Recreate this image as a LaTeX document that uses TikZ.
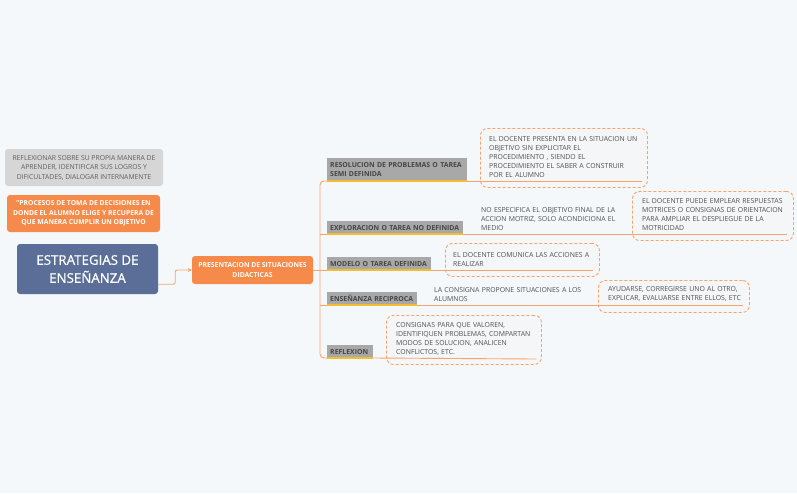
\documentclass[tikz,border=0pt]{standalone}
\usepackage{fontspec}
\setmainfont{Open Sans}
\usetikzlibrary{arrows.meta,calc}
\definecolor{bg}{HTML}{F4F8FB}
\definecolor{lightgray}{HTML}{D6D6D6}
\definecolor{grtext}{HTML}{5E5E5E}
\definecolor{orng}{HTML}{F68A4A}
\definecolor{bluebox}{HTML}{5A6E98}
\definecolor{lblgray}{HTML}{A8A8A8}
\definecolor{lbltext}{HTML}{454545}
\definecolor{desctext}{HTML}{505050}
\definecolor{lineor}{HTML}{F7A36E}
\definecolor{yel}{HTML}{F4BD2E}
\definecolor{boxfill}{HTML}{F5F6F8}
\begin{document}
\begin{tikzpicture}[x=1pt,y=-1pt,
  lbl/.style={fill=lblgray, text=lbltext, font=\bfseries\fontsize{6.9}{9.5}\selectfont,
    anchor=south west, inner xsep=3pt, inner ysep=2pt, align=left},
  desc/.style={text=desctext, font=\fontsize{6.9}{9}\selectfont, anchor=south west,
    align=left, inner xsep=0pt, inner ysep=3pt},
  dbox/.style={draw=lineor, dash pattern=on 3pt off 2pt, rounded corners=7pt,
    fill=boxfill, line width=0.9pt, anchor=north west, inner sep=0pt},
  branch/.style={draw=lineor, line width=0.9pt},
  uline/.style={draw=yel, line width=1.6pt},
  topbox/.style={rounded corners=3pt, inner sep=2pt, align=center}
]
\useasboundingbox[fill=bg] (0,0) rectangle (797,493);

% left boxes
\node[topbox, fill=lightgray, text=grtext, font=\fontsize{6.8}{9.5}\selectfont,
  minimum width=158, minimum height=37] (refl) at (84,167.5)
  {REFLEXIONAR SOBRE SU PROPIA MANERA DE\\APRENDER, IDENTIFICAR SUS LOGROS Y\\DIFICULTADES, DIALOGAR INTERNAMENTE};
\node[topbox, fill=orng, text=white, font=\bfseries\fontsize{6.8}{9.5}\selectfont,
  minimum width=153, minimum height=37] (proc) at (83.5,213.5)
  {"PROCESOS DE TOMA DE DECISIONES EN\\DONDE EL ALUMNO ELIGE Y RECUPERA DE\\QUE MANERA CUMPLIR UN OBJETIVO};
\node[topbox, fill=bluebox, text=white, font=\addfontfeature{FakeBold=0.7}\fontsize{13.3}{18}\selectfont,
  minimum width=141, minimum height=50] (title) at (87.5,269)
  {ESTRATEGIAS DE\\ENSEÑANZA};
\node[topbox, fill=orng, text=white, font=\bfseries\fontsize{6.8}{9.5}\selectfont,
  minimum width=121, minimum height=28] (pres) at (252.5,270)
  {PRESENTACION DE SITUACIONES\\DIDACTICAS};

\draw[branch, rounded corners=2pt, -{Stealth[length=4pt,width=4pt]}]
  (title.east |- pres.south) -- ++(17,0) |- (pres.west);

% dashed boxes
\node[dbox, minimum width=167, minimum height=59] (d1) at (480,128) {};
\node[dbox, minimum width=161, minimum height=49] (d2) at (632,191) {};
\node[dbox, minimum width=154, minimum height=33] (d3) at (445,243) {};
\node[dbox, minimum width=151, minimum height=32] (d4) at (598,280) {};
\node[dbox, minimum width=155, minimum height=49] (d5) at (386,315) {};

% branch labels
\node[lbl, text width=134, minimum height=23] (b1) at (327,181)
  {RESOLUCION DE PROBLEMAS O TAREA\\SEMI DEFINIDA};
\node[lbl, text width=130, minimum height=12.5] (b2) at (327,234)
  {EXPLORACION O TAREA NO DEFINIDA};
\node[lbl, text width=98, minimum height=12.5] (b3) at (327,270)
  {MODELO O TAREA DEFINIDA};
\node[lbl, text width=84, minimum height=12.5] (b4) at (327,305)
  {ENSEÑANZA RECIPROCA};
\node[lbl, text width=40, minimum height=12.5] (b5) at (327,358)
  {REFLEXION};

% descriptions
\node[desc, text width=153] (t1) at (489,181)
  {EL DOCENTE PRESENTA EN LA SITUACION UN\\OBJETIVO SIN EXPLICITAR EL\\PROCEDIMIENTO , SIENDO EL\\PROCEDIMIENTO EL SABER A CONSTRUIR\\POR EL ALUMNO};
\node[desc, text width=149] (t2a) at (481,234)
  {NO ESPECIFICA EL OBJETIVO FINAL DE LA\\ACCION MOTRIZ, SOLO ACONDICIONA EL\\MEDIO};
\node[desc, text width=145] (t2b) at (642,234)
  {EL DOCENTE PUEDE EMPLEAR RESPUESTAS\\MOTRICES O CONSIGNAS DE ORIENTACION\\PARA AMPLIAR EL DESPLIEGUE DE LA\\MOTRICIDAD};
\node[desc, text width=140] (t3) at (453,270)
  {EL DOCENTE COMUNICA LAS ACCIONES A\\REALIZAR};
\node[desc, text width=161] (t4a) at (434,305)
  {LA CONSIGNA PROPONE SITUACIONES A LOS\\ALUMNOS};
\node[desc, text width=135] (t4b) at (608,305)
  {AYUDARSE, CORREGIRSE UNO AL OTRO,\\EXPLICAR, EVALUARSE ENTRE ELLOS, ETC};
\node[desc, text width=140] (t5) at (396,359)
  {CONSIGNAS PARA QUE VALOREN,\\IDENTIFIQUEN PROBLEMAS, COMPARTAN\\MODOS DE SOLUCION, ANALICEN\\CONFLICTOS, ETC.};

% trunk
\coordinate (tr) at (320,270);
\draw[branch] (pres.east) -- (tr);
\draw[branch, rounded corners=4pt] (b1.south west) -- (tr |- b1.south) -- (tr |- b5.south) -- (b5.south west);
\draw[branch] (tr |- b2.south) -- (b2.south west);
\draw[branch] (tr |- b3.south) -- (b3.south west);
\draw[branch] (tr |- b4.south) -- (b4.south west);

% underlines
\draw[branch] (b1.south east) -- (t1.south east);
\draw[branch] (b2.south east) -- (t2b.south east);
\draw[branch] (b3.south east) -- (t3.south east);
\draw[branch] (b4.south east) -- (t4b.south east);
\draw[branch] (b5.south east) -- (t5.south east);
\foreach \b in {b1,b2,b3,b4,b5} \draw[uline] (\b.south west) -- (\b.south east);
\end{tikzpicture}
\end{document}
